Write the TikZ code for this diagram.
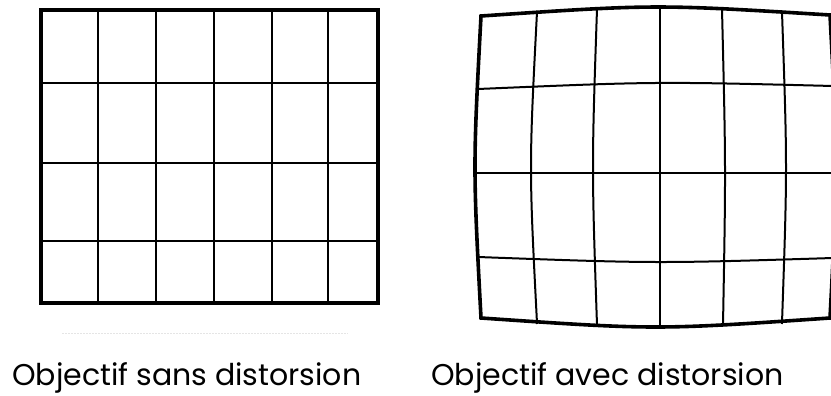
\documentclass[tikz,border=0pt]{standalone}
\usepackage{fontspec}
\setmainfont{Poppins}
\begin{document}
\begin{tikzpicture}[x=1pt, y=-1pt, line cap=rect]
        \useasboundingbox (0,0) rectangle (831,396);
        \tikzset{
          fin/.style={line width=2pt},
          epais/.style={line width=3.6pt, line join=miter},
          legende/.style={font=\fontsize{30}{34}\selectfont, anchor=base west, inner sep=0pt}
        }

        % Grille sans distorsion
        \foreach \x in {98,156,214,272,328} {
            \draw[fin] (\x,10) -- (\x,303);
        }
        \foreach \y in {83,163,241} {
            \draw[fin] (41,\y) -- (378,\y);
        }
        \draw[epais] (41,10) rectangle (378,303);
        % Trace pale sous la grille
        \draw[gray!20, dotted, line width=1pt] (62,333) -- (347,333);

        % Grille avec distorsion (en barillet)
        % verticales : haut x / milieu x / bas x / haut y / bas y
        \foreach \xt/\xm/\xb/\yt/\yb in {537/531/537/12/323, 597/593/597/9/325,
                660/660/660/7/327, 722/725/723/9/325, 782/786/782/12/323} {
            \draw[fin] (\xt,\yt) .. controls ({(8*\xm-\xt-\xb)/6},{(\yt+\yb)/2}) .. (\xb,\yb);
        }
        % horizontales : gauche x / gauche y / milieu y / droite x / droite y
        \foreach \xl/\yl/\ym/\xr/\yr in {478/89/83/833/86, 475/173/173/836/173, 478/257/262/833/258} {
            \draw[fin] (\xl,\yl) .. controls ({(\xl+\xr)/2},{(8*\ym-\yl-\yr)/6}) .. (\xr,\yr);
        }
        % Bord
        \draw[epais] (481,16) .. controls (655.5,4.2) .. (830,15)
            .. controls (838,166.5) .. (830,318)
            .. controls (655.5,330) .. (481,318)
            .. controls (473,167) .. cycle;

        % Legendes
        \node[legende] (sans) at (12,385) {Objectif sans distorsion};
        \node[legende] (avec) at (431,385) {Objectif avec distorsion};
\end{tikzpicture}
\end{document}
